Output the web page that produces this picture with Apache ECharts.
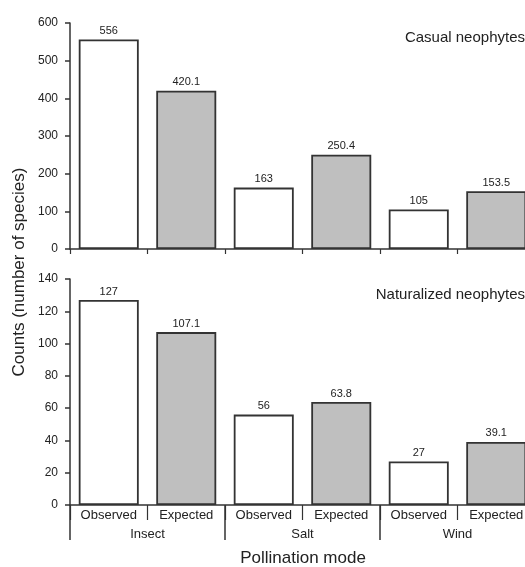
<!DOCTYPE html>
<html>
<head>
<meta charset="utf-8">
<script src="https://cdn.jsdelivr.net/npm/echarts@6/dist/echarts.min.js"></script>
<style>
html,body{margin:0;padding:0;background:#fff;overflow:hidden;width:525px;height:567px;}
#chart{width:545px;height:567px;}
</style>
</head>
<body>
<div id="chart"></div>
<script>
var barCategories = ['Observed', 'Expected', 'Observed', 'Expected', 'Observed', 'Expected'];
var groupCategories = ['Insect', 'Salt', 'Wind'];
var casualValues = [556, 420.1, 163, 250.4, 105, 153.5];
var naturalizedValues = [127, 107.1, 56, 63.8, 27, 39.1];
var panelTitles = ['Casual neophytes', 'Naturalized neophytes'];
var yTitle = 'Counts (number of species)';
var xTitle = 'Pollination mode';

var FONT = '"Liberation Sans", Arial, Helvetica, sans-serif';
var LINE = '#333';
var TEXT = '#222';
var FILL_OBS = '#ffffff';
var FILL_EXP = '#bfbfbf';

function items(vals) {
  return vals.map(function (v, i) {
    return { value: v, itemStyle: { color: (barCategories[i] === 'Observed') ? FILL_OBS : FILL_EXP } };
  });
}

var chart = echarts.init(document.getElementById('chart'), null, { renderer: 'canvas' });

var yAxisCommon = {
  type: 'value',
  axisLine: { show: true, lineStyle: { color: LINE, width: 1.5 } },
  axisTick: { show: true, length: 5, lineStyle: { color: LINE, width: 1.5 } },
  axisLabel: { color: TEXT, fontSize: 12, fontFamily: FONT, margin: 12 },
  splitLine: { show: false }
};

var option = {
  animation: false,
  backgroundColor: '#fff',
  grid: [
    { left: 70, top: 23, width: 465, height: 226 },
    { left: 70, top: 279, width: 465, height: 226 }
  ],
  xAxis: [
    {
      type: 'category', gridIndex: 0, data: barCategories,
      axisLine: { show: true, lineStyle: { color: LINE, width: 1.5 } },
      axisTick: { show: true, length: 5, lineStyle: { color: LINE, width: 1.2 } },
      axisLabel: { show: false }
    },
    {
      type: 'category', gridIndex: 1, position: 'bottom', data: barCategories,
      axisLine: { show: true, lineStyle: { color: LINE, width: 1.5 } },
      axisTick: { show: true, length: 15, lineStyle: { color: LINE, width: 1.2 } },
      axisLabel: { color: TEXT, fontSize: 13, fontFamily: FONT, margin: 4 }
    },
    {
      type: 'category', gridIndex: 1, position: 'bottom', data: groupCategories,
      axisLine: { show: false },
      axisTick: { show: true, length: 35, lineStyle: { color: LINE, width: 1.5 } },
      axisLabel: { color: TEXT, fontSize: 13, fontFamily: FONT, margin: 23 }
    }
  ],
  yAxis: [
    Object.assign({}, yAxisCommon, { gridIndex: 0, min: 0, max: 600, interval: 100 }),
    Object.assign({}, yAxisCommon, { gridIndex: 1, min: 0, max: 140, interval: 20 })
  ],
  series: [
    {
      type: 'bar', xAxisIndex: 0, yAxisIndex: 0, data: items(casualValues),
      barWidth: 60,
      itemStyle: { borderColor: LINE, borderWidth: 1.8 },
      label: { show: true, position: 'top', distance: 3, color: TEXT, fontSize: 11, fontFamily: FONT }
    },
    {
      type: 'bar', xAxisIndex: 1, yAxisIndex: 1, data: items(naturalizedValues),
      barWidth: 60,
      itemStyle: { borderColor: LINE, borderWidth: 1.8 },
      label: { show: true, position: 'top', distance: 3, color: TEXT, fontSize: 11, fontFamily: FONT }
    }
  ],
  graphic: [
    { type: 'text', right: 20, top: 30, style: { text: panelTitles[0], fill: TEXT, font: '15px ' + FONT } },
    { type: 'text', right: 20, top: 287, style: { text: panelTitles[1], fill: TEXT, font: '15px ' + FONT } },
    { type: 'text', x: 19, y: 272, rotation: Math.PI / 2,
      style: { text: yTitle, fill: TEXT, font: '17px ' + FONT, align: 'center', verticalAlign: 'middle' } },
    { type: 'text', x: 303, y: 558,
      style: { text: xTitle, fill: TEXT, font: '17px ' + FONT, align: 'center', verticalAlign: 'middle' } }
  ]
};
chart.setOption(option);
</script>
</body>
</html>
